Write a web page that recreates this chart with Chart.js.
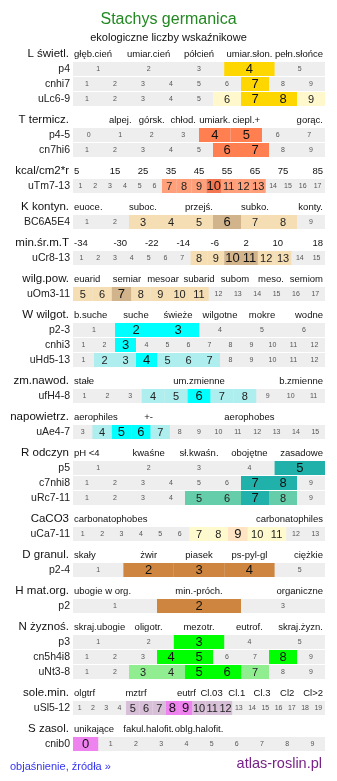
<!DOCTYPE html>
<html><head><meta charset="utf-8">
<script src="https://cdn.jsdelivr.net/npm/chart.js@4"></script>
<style>
html,body{margin:0;padding:0;background:#fff;}
#wrap{position:relative;width:337px;height:781px;overflow:hidden;font-family:"Liberation Sans",Arial,sans-serif;}
canvas{position:absolute;left:0;top:0;}
.t{position:absolute;white-space:nowrap;}
#title{left:0;width:337px;text-align:center;top:9px;font-size:16px;line-height:20px;color:#228822;}
#sub{left:0;width:337px;text-align:center;top:30px;font-size:11px;line-height:14px;color:#111;}
#src{left:10px;top:759px;font-size:11px;line-height:14px;color:#3535f0;text-decoration:none;}
#site{right:15px;top:754px;font-size:14.5px;line-height:18px;color:#772288;text-decoration:none;}
</style></head><body>
<div id="wrap">
<canvas id="c" width="337" height="781" style="width:337px;height:781px"></canvas>
<div class="t" id="title">Stachys germanica</div>
<div class="t" id="sub">ekologiczne liczby wskaźnikowe</div>
<a class="t" id="src">objaśnienie, źródła »</a>
<a class="t" id="site">atlas-roslin.pl</a>
</div>
<script>
// ---- data ----
const sectionNames = ["L świetl.","T termicz.","kcal/cm2*r","K kontyn.","min.śr.m.T","wilg.pow.","W wilgot.","zm.nawod.","napowietrz.","R odczyn","CaCO3","D granul.","H mat.org.","N żyznoś.","sole.min.","S zasol."];
const sectionTicks = [
 ["głęb.cień","umiar.cień","półcień","umiar.słon.","pełn.słońce"],
 ["","alpej.","górsk.","chłod.","umiark.","ciepl.+","","gorąc."],
 ["5","15","25","35","45","55","65","75","85"],
 ["euoce.","","suboc.","","przejś.","","subko.","","konty."],
 ["-34","-30","-22","-14","-6","2","10","18"],
 ["euarid","semiar","mesoar","subarid","subom","meso.","semiom"],
 ["b.suche","suche","świeże","wilgotne","mokre","wodne"],
 ["stałe","um.zmienne","b.zmienne"],
 ["aerophiles","+-","","aerophobes",""],
 ["pH <4","kwaśne","sł.kwaśn.","obojętne","zasadowe"],
 ["carbonatophobes","carbonatophiles"],
 ["skały","żwir","piasek","ps-pyl-gl","ciężkie"],
 ["ubogie w org.","min.-próch.","organiczne"],
 ["skraj.ubogie","oligotr.","mezotr.","eutrof.","skraj.żyzn."],
 ["olgtrf","","mztrf","","eutrf","Cl.03","Cl.1","Cl.3","Cl2","Cl>2"],
 ["unikające","fakul.halofit.","oblg.halofit.","",""]
];
const rowNames   = ["p4","cnhi7","uLc6-9","p4-5","cn7hi6","uTm7-13","BC6A5E4","uCr8-13","uOm3-11","p2-3","cnhi3","uHd5-13","ufH4-8","uAe4-7","p5","c7nhi8","uRc7-11","uCa7-11","p2-4","p2","p3","cn5h4i8","uNt3-8","uSl5-12","cnib0"];
const rowSection = [0,0,0,1,1,2,3,4,5,6,6,6,7,8,9,9,9,10,11,12,13,13,13,14,15];
const rowFirst   = [1,1,1,0,1,1,1,1,5,1,1,1,1,3,1,1,1,1,1,1,1,1,1,1,0];
const rowLast    = [5,9,9,7,9,17,9,15,17,6,12,12,11,15,5,9,9,13,5,3,5,9,9,19,9];
const rowStrong  = [[4],[7],[7,8],[4,5],[6,7],[10],[6],[10,11],[7],[2,3],[3],[4],[6],[5,6],[5],[7,8],[7],[9],[2,3,4],[2],[3],[4,5,8],[5,6],[8,9],[0]];
const rowWeak    = [[],[],[6,9],[],[],[7,8,9,11,12,13],[3,4,5,7,8],[8,9,12,13],[5,6,8,9,10,11],[],[],[2,3,5,6,7],[4,5,7,8],[4,7],[],[],[5,6,8],[7,8,10,11],[],[],[],[],[3,4,7],[5,6,7,10,11,12],[]];

// ---- styles ----
const strongColor = ["#ffd700","#ff7f50","#f27650","#d2b48c","#d2b48c","#d2b48c","#00ffff","#00ffff","#00ffff","#20b2aa","#ffe4c4","#cd853f","#cd853f","#00ff00","#ee82ee","#ee82ee"];
const weakColor   = ["#fff8cc","#ffa07a","#ffa07a","#f5deb3","#f5deb3","#f5deb3","#afeeee","#afeeee","#afeeee","#66cdaa","#fffacd","#f5deb3","#f5deb3","#90ee90","#d8bfd8","#d8bfd8"];
const FONT = '"Liberation Sans", Arial, sans-serif';
const X0 = 73, X1 = 325, W = 337, H = 781;

// ---- layout (row/section vertical positions) ----
const sectionY = [], rowY = [];
(function(){
  let cur = 54, prev = -1;
  rowNames.forEach((n, r) => {
    const s = rowSection[r];
    if (s !== prev) { if (prev >= 0) cur += 21; sectionY[s] = cur; prev = s; }
    cur += 15; rowY[r] = cur;
  });
})();

const cellCount = r => rowLast[r] - rowFirst[r] + 1;
function cellBars(list, colors) {
  const data = [], bg = [];
  rowNames.forEach((n, r) => {
    const N = cellCount(r);
    list[r].forEach(v => {
      const i = v - rowFirst[r];
      data.push({x: [i / N, (i + 1) / N], y: rowY[r]});
      bg.push(colors[rowSection[r]]);
    });
  });
  return {data, bg};
}
const strong = cellBars(rowStrong, strongColor);
const weak = cellBars(rowWeak, weakColor);

const textPlugin = {
  id: 'texts',
  afterDraw(chart) {
    const ctx = chart.ctx, xs = chart.scales.x, ys = chart.scales.y;
    ctx.save();
    ctx.textBaseline = 'middle';
    sectionNames.forEach((name, s) => {
      const y = ys.getPixelForValue(sectionY[s]);
      ctx.fillStyle = '#111';
      ctx.font = '11.5px ' + FONT;
      ctx.textAlign = 'right';
      ctx.fillText(name, 69, y);
      const ticks = sectionTicks[s], n = ticks.length;
      ctx.font = '9.5px ' + FONT;
      ticks.forEach((t, k) => {
        if (!t) return;
        if (k === 0) { ctx.textAlign = 'left'; ctx.fillText(t, xs.getPixelForValue(0) + 1, y); }
        else if (k === n - 1) { ctx.textAlign = 'right'; ctx.fillText(t, xs.getPixelForValue(1) - 2, y); }
        else { ctx.textAlign = 'center'; ctx.fillText(t, xs.getPixelForValue((k + 0.5) / n), y); }
      });
    });
    rowNames.forEach((name, r) => {
      const y = ys.getPixelForValue(rowY[r]);
      ctx.fillStyle = '#222';
      ctx.font = '10.5px ' + FONT;
      ctx.textAlign = 'right';
      ctx.fillText(name, 70, y);
      const N = cellCount(r);
      ctx.textAlign = 'center';
      for (let v = rowFirst[r]; v <= rowLast[r]; v++) {
        const i = v - rowFirst[r];
        const x = xs.getPixelForValue((i + 0.5) / N);
        if (rowStrong[r].includes(v)) { ctx.font = '13px ' + FONT; ctx.fillStyle = '#111'; ctx.fillText(String(v), x, y + 0.5); }
        else if (rowWeak[r].includes(v)) { ctx.font = '11px ' + FONT; ctx.fillStyle = '#222'; ctx.fillText(String(v), x, y + 0.5); }
        else { ctx.font = '7px ' + FONT; ctx.fillStyle = '#555'; ctx.fillText(String(v), x, y); }
      }
    });
    ctx.restore();
  }
};

new Chart(document.getElementById('c'), {
  type: 'bar',
  data: {
    datasets: [
      {label: 'silne', data: strong.data, backgroundColor: strong.bg, order: 0},
      {label: 'słabe', data: weak.data, backgroundColor: weak.bg, order: 1},
      {label: 'skala', data: rowNames.map((n, r) => ({x: [0, 1], y: rowY[r]})), backgroundColor: '#eeeeee', order: 2}
    ]
  },
  options: {
    indexAxis: 'y',
    responsive: false,
    animation: false,
    devicePixelRatio: 1,
    layout: {padding: {left: X0, right: W - X1, top: 0, bottom: 0}},
    datasets: {bar: {grouped: false, barThickness: 14, borderWidth: 0, inflateAmount: 0}},
    scales: {
      x: {type: 'linear', min: 0, max: 1, display: false, offset: false},
      y: {type: 'linear', min: 0, max: H, reverse: true, display: false, offset: false, grid: {offset: false}}
    },
    plugins: {legend: {display: false}, tooltip: {enabled: false}, title: {display: false}}
  },
  plugins: [textPlugin]
});
</script>
</body></html>
